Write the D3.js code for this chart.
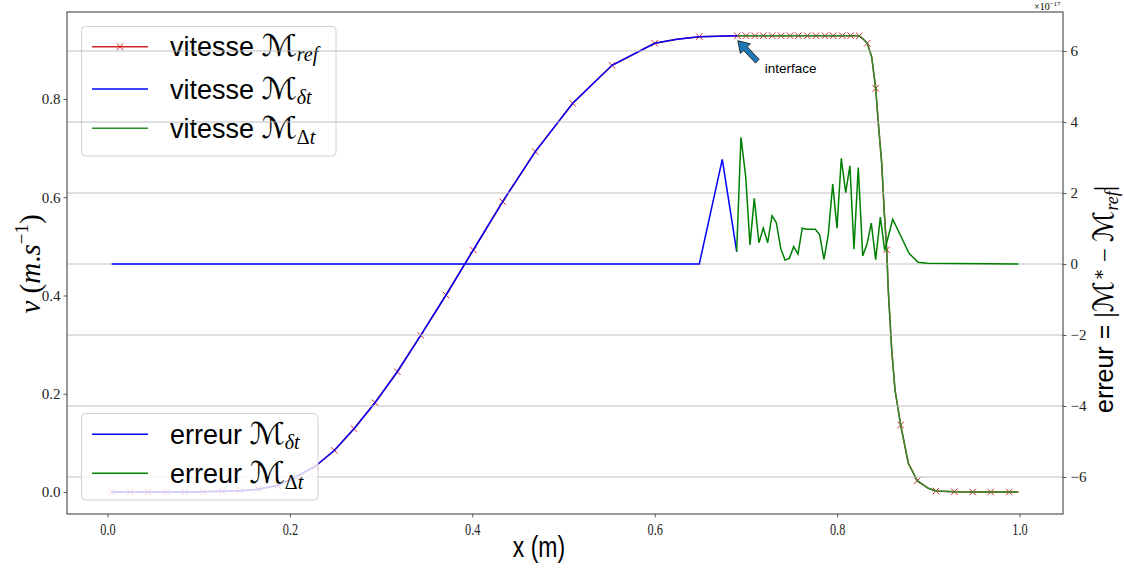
<!DOCTYPE html>
<html><head><meta charset="utf-8">
<script src="https://cdn.jsdelivr.net/npm/d3@7"></script>
<style>body{margin:0;background:#fff}svg{display:block}text{white-space:pre}</style>
</head><body>
<svg id="c" width="1124" height="570"></svg>
<script>
// ---------------- data ----------------
const refX = [0.0046,0.0247,0.0447,0.0649,0.0850,0.1050,0.1259,0.1453,0.1654,0.1864,0.2067,0.2275,0.2487,0.2703,0.2933,0.3178,0.3434,0.3712,0.4011,0.4333,0.4691,0.5101,0.5532,0.6000,0.6489,
  0.6906,0.7001,0.7099,0.7191,0.7289,0.7385,0.7484,0.7575,0.7673,0.7769,0.7867,0.7958,0.8057,0.8149,0.8243,
  0.8331,0.8423,0.8544,0.8697,0.8879,0.9084,0.9285,0.9487,0.9684,0.9888];
const refV = [0,0,0,0,0,0.0006,0.0014,0.0026,0.0055,0.0132,0.0305,0.0519,0.0845,0.1289,0.1818,0.2448,0.3188,0.4010,0.4926,0.5910,0.6928,0.7912,0.8686,0.9134,0.9269,
  0.9289,0.9289,0.9289,0.9289,0.9289,0.9289,0.9289,0.9289,0.9289,0.9289,0.9289,0.9289,0.9289,0.9289,0.9285,
  0.9134,0.8218,0.4931,0.1364,0.0231,0.0020,0.0006,0,0,0];

const velDtX = [0.0046,0.0447,0.0850,0.1050,0.1259,0.1453,0.1654,0.1864,0.2067,0.2275,0.2487,0.2703,0.2933,0.3178,0.3434,0.3712,0.4011,0.4333,0.4691,0.5101,0.5532,0.6000,0.6245,0.6489,0.6906];
const velDtV = [0,0,0,0.0006,0.0014,0.0026,0.0055,0.0132,0.0305,0.0519,0.0845,0.1289,0.1818,0.2448,0.3188,0.4010,0.4926,0.5910,0.6928,0.7912,0.8686,0.9134,0.9215,0.9269,0.9289];

const velDTX = [0.6906,0.7001,0.7099,0.7191,0.7289,0.7385,0.7484,0.7575,0.7673,0.7769,0.7867,0.7958,0.8057,0.8149,0.8243,
  0.8287,0.8331,0.8379,0.8423,0.8452,0.8489,0.8518,0.8544,0.8561,0.8599,0.8635,0.8697,0.8781,0.8879,0.9000,0.9084,0.9282,0.9487,0.9987];
const velDTV = [0.9289,0.9289,0.9289,0.9289,0.9289,0.9289,0.9289,0.9289,0.9289,0.9289,0.9289,0.9289,0.9289,0.9289,0.9285,
  0.9221,0.9134,0.8861,0.8218,0.7511,0.6696,0.5673,0.4931,0.4112,0.2890,0.2076,0.1364,0.0584,0.0231,0.0075,0.0020,0.0005,0,0];

// errors in units of 1e-17
const errDtX = [0.0046,0.6489,0.6741,0.6899];
const errDtV = [0,0,2.95,0.35];
const errDTX = [0.6899,0.6946,0.6998,0.7045,0.7092,0.7143,0.7191,0.7239,0.7286,0.7333,0.7382,0.7429,0.7476,0.7524,0.7571,0.7618,0.7667,0.7714,0.7761,0.7809,0.7856,0.7903,0.7952,0.7999,0.8046,0.8094,0.8141,0.8185,0.8232,0.8281,0.8328,0.8375,0.8423,0.8474,0.8522,0.8610,0.8789,0.8887,0.8986,0.9987];
const errDTV = [0.35,3.57,2.46,0.54,1.85,0.60,1.01,0.60,1.36,1.17,0.44,0.11,0.16,0.49,0.28,1.01,0.98,0.98,0.98,0.82,0.13,0.82,2.25,1.01,2.98,2.01,2.77,0.42,2.72,0.23,0.56,1.15,0.12,1.32,0.38,1.26,0.30,0.05,0.02,0];

const xTicks = [0,0.2,0.4,0.6,0.8,1.0];
const yLTicks = [0,0.2,0.4,0.6,0.8];
const yRTicks = [-6,-4,-2,0,2,4,6];
const interfacePt = {x:0.6906, v:0.9289, label:"interface"};

// ---------------- layout ----------------
const L=67, R=1063, T=12, B=514;
const svg = d3.select("#c");
const x = d3.scaleLinear().domain([-0.0444,1.0477]).range([L,R]);
const yL = d3.scaleLinear().domain([-0.0448,0.9771]).range([B,T]);
const yR = d3.scaleLinear().domain([-7.042,7.099]).range([B,T]);

const SANS="Liberation Sans, Arial, sans-serif";
const SERIF="Liberation Serif, DejaVu Serif, serif";
const CAL="DejaVu Sans, DejaVu Serif, serif";
const RED="#d62728", BLUE="#0000ff", GREENV="#2a8c2a", GREENE="#008000";

function rich(g, x0, y0, segs){
  let cx = x0;
  segs.forEach(s=>{
    const t = g.append("text")
      .attr("font-family", s.f||SANS).attr("font-size", s.s||27)
      .attr("font-style", s.st||"normal").attr("fill","#000").attr("xml:space","preserve").text(s.t);
    const sx = s.sx||1;
    t.attr("transform", `translate(${cx},${y0+(s.dy||0)}) scale(${sx},1)`);
    cx += t.node().getComputedTextLength()*sx + (s.gap||0);
  });
  return cx - x0;
}

const clipId="plotclip";
svg.append("defs").append("clipPath").attr("id",clipId).append("rect")
  .attr("x",L).attr("y",T).attr("width",R-L).attr("height",B-T);

// ---------------- ax1 (velocity) ----------------
const ax1 = svg.append("g").attr("clip-path",`url(#${clipId})`);
const lineV = (xs,vs)=> d3.line().x(i=>x(xs[i])).y(i=>yL(vs[i]))(d3.range(xs.length));
const refLineX = velDtX.concat(velDTX.slice(1));
const refLineV = velDtV.concat(velDTV.slice(1));
ax1.append("path").attr("d",lineV(refLineX,refLineV)).attr("fill","none").attr("stroke",RED).attr("stroke-width",1.5);
const mk = 3.2;
ax1.append("g").selectAll("path").data(d3.range(refX.length)).join("path")
  .attr("d",i=>{const px=x(refX[i]),py=yL(refV[i]);return `M${px-mk},${py-mk}L${px+mk},${py+mk}M${px-mk},${py+mk}L${px+mk},${py-mk}`;})
  .attr("stroke",RED).attr("stroke-width",1).attr("fill","none");
ax1.append("path").attr("d",lineV(velDtX,velDtV)).attr("fill","none").attr("stroke",BLUE).attr("stroke-width",1.5);
ax1.append("path").attr("d",lineV(velDTX,velDTV)).attr("fill","none").attr("stroke",GREENV).attr("stroke-width",1.5);

function legendBox(g,x0,y0,w,h){
  g.append("rect").attr("x",x0).attr("y",y0).attr("width",w).attr("height",h).attr("rx",4)
   .attr("fill","#fff").attr("fill-opacity",0.8).attr("stroke","#d0d0d0").attr("stroke-width",1);
}
const calM = {t:"ℳ",f:CAL,s:30,sx:1.1};
const lg1 = svg.append("g");
legendBox(lg1,81.5,26.5,254.5,129.5);
const l1rows=[
  {y:46.7,c:RED,m:true,segs:[{t:"vitesse "},calM,{t:"ref",f:SERIF,st:"italic",s:20,dy:5}]},
  {y:89,c:BLUE,segs:[{t:"vitesse "},calM,{t:"δt",f:SERIF,st:"italic",s:20,dy:5}]},
  {y:128.3,c:GREENV,segs:[{t:"vitesse "},calM,{t:"Δ",f:SERIF,s:20,dy:6},{t:"t",f:SERIF,st:"italic",s:20,dy:6}]}
];
l1rows.forEach(r=>{
  lg1.append("line").attr("x1",92).attr("x2",148).attr("y1",r.y).attr("y2",r.y).attr("stroke",r.c).attr("stroke-width",1.5);
  if(r.m){lg1.append("path").attr("d",`M${120-mk},${r.y-mk}L${120+mk},${r.y+mk}M${120-mk},${r.y+mk}L${120+mk},${r.y-mk}`).attr("stroke",RED).attr("stroke-width",1);}
  rich(lg1,170,r.y+9.5,r.segs);
});

// ---------------- ax2 (error) ----------------
const ax2 = svg.append("g");
ax2.append("g").selectAll("line").data(yRTicks).join("line")
  .attr("x1",L).attr("x2",R).attr("y1",d=>yR(d)).attr("y2",d=>yR(d))
  .attr("stroke","#b8b8b8").attr("stroke-width",0.9);
const plot2 = ax2.append("g").attr("clip-path",`url(#${clipId})`);
const lineE = (xs,vs)=> d3.line().x(i=>x(xs[i])).y(i=>yR(vs[i]))(d3.range(xs.length));
plot2.append("path").attr("d",lineE(errDtX,errDtV)).attr("fill","none").attr("stroke",BLUE).attr("stroke-width",1.5);
plot2.append("path").attr("d",lineE(errDTX,errDTV)).attr("fill","none").attr("stroke",GREENE).attr("stroke-width",1.5);

const lg2 = svg.append("g");
legendBox(lg2,81.5,413.5,236.5,86.5);
const l2rows=[
  {y:434.3,c:BLUE,segs:[{t:"erreur "},calM,{t:"δt",f:SERIF,st:"italic",s:20,dy:5}]},
  {y:473.3,c:GREENE,segs:[{t:"erreur "},calM,{t:"Δ",f:SERIF,s:20,dy:6},{t:"t",f:SERIF,st:"italic",s:20,dy:6}]}
];
l2rows.forEach(r=>{
  lg2.append("line").attr("x1",92).attr("x2",148).attr("y1",r.y).attr("y2",r.y).attr("stroke",r.c).attr("stroke-width",1.5);
  rich(lg2,170,r.y+9.5,r.segs);
});

// ---------------- annotation ----------------
{
  const tipX=x(interfacePt.x)+0.5, tipY=yL(interfacePt.v)+5;
  const tailX=tipX+19.5, tailY=tipY+20.5;
  const ang=Math.atan2(tailY-tipY,tailX-tipX);
  const len=Math.hypot(tailX-tipX,tailY-tipY);
  const hl=11, hw=7, sw=2.6;
  const pts=[[0,0],[hl,-hw],[hl,-sw],[len,-sw],[len,sw],[hl,sw],[hl,hw]];
  const c=Math.cos(ang), s=Math.sin(ang);
  const P=pts.map(([a,b])=>[tipX+a*c-b*s, tipY+a*s+b*c]);
  svg.append("path").attr("d","M"+P.map(p=>p.join(",")).join("L")+"Z")
    .attr("fill","#1f77b4").attr("stroke","#111").attr("stroke-width",0.8);
  svg.append("text").attr("x",tipX+27).attr("y",tipY+32.5).attr("font-family",SANS).attr("font-size",13.5).text(interfacePt.label);
}

// ---------------- axes ----------------
const tickFont = g=>g.selectAll("text").attr("font-family",SERIF).attr("font-size",15).attr("fill","#222");
const gx = svg.append("g").attr("transform",`translate(0,${B})`)
  .call(d3.axisBottom(x).tickValues(xTicks).tickFormat(d3.format(".1f")).tickSizeOuter(0).tickSize(3.5).tickPadding(4));
gx.call(tickFont); gx.select(".domain").remove();
gx.selectAll(".tick text").attr("transform","translate(0,1) scale(0.82,1.12)");

const gl = svg.append("g").attr("transform",`translate(${L},0)`)
  .call(d3.axisLeft(yL).tickValues(yLTicks).tickFormat(d3.format(".1f")).tickSizeOuter(0).tickSize(3.5).tickPadding(3));
gl.call(tickFont); gl.select(".domain").remove();
const gr = svg.append("g").attr("transform",`translate(${R},0)`)
  .call(d3.axisRight(yR).tickValues(yRTicks).tickFormat(d3.format("d")).tickSizeOuter(0).tickSize(3.5).tickPadding(4));
gr.call(tickFont); gr.select(".domain").remove();
svg.selectAll(".tick line").attr("stroke","#333").attr("stroke-width",0.8);

svg.append("rect").attr("x",L).attr("y",T).attr("width",R-L).attr("height",B-T)
  .attr("fill","none").attr("stroke","#333").attr("stroke-width",1);

{
  const g=svg.append("g");
  rich(g,1034,10,[{t:"×10",f:SERIF,s:10},{t:"−17",f:SERIF,s:7,dy:-4}]);
}

svg.append("text").attr("text-anchor","middle")
  .attr("font-family",SANS).attr("font-size",25).attr("transform","translate(539,557) scale(0.92,1.15)").text("x (m)");

{
  const g=svg.append("g");
  const w=rich(g,0,0,[{t:"v",f:SERIF,st:"italic",s:29},{t:" (",f:SERIF,s:29},{t:"m",f:SERIF,st:"italic",s:29},{t:".",f:SERIF,s:29},{t:"s",f:SERIF,st:"italic",s:29},{t:"−1",f:SERIF,s:19,dy:-12},{t:")",f:SERIF,s:29}]);
  g.attr("transform",`translate(40,${264+w/2}) rotate(-90)`);
}
{
  const calR = {t:"ℳ",f:CAL,s:28,sx:1.05};
  const g=svg.append("g");
  rich(g,0,0,[{t:"erreur = ",s:25},{t:"|",f:SERIF,s:28},calR,{t:"∗",f:SERIF,s:18,dy:-8},{t:" − ",f:SERIF,s:25},calR,{t:"ref",f:SERIF,st:"italic",s:18,dy:5},{t:"|",f:SERIF,s:28}]);
  g.attr("transform",`translate(1113,413) rotate(-90)`);
}
</script>
</body></html>
